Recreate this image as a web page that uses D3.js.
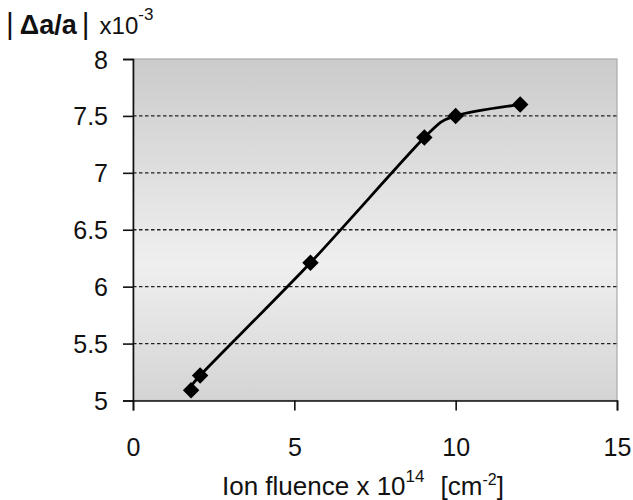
<!DOCTYPE html>
<html>
<head>
<meta charset="utf-8">
<script src="https://cdn.jsdelivr.net/npm/d3@7"></script>
<style>
  body { margin: 0; background: #fff; }
  text { font-family: "Liberation Sans", Arial, sans-serif; }
</style>
</head>
<body>
<svg id="svg" width="633" height="500"></svg>
<script>
let fluence = [1.8, 2.08, 5.5, 9.03, 10, 12];
let strain = [5.09, 5.22, 6.21, 7.31, 7.5, 7.6];
let xTicks = [0, 5, 10, 15];
let yTicks = [5, 5.5, 6, 6.5, 7, 7.5, 8];
let gridValues = [5.5, 6, 6.5, 7, 7.5];

let margin = {top: 59, bottom: 100, left: 133, right: 16};
let svgWidth = 633;
let svgHeight = 500;
let width = svgWidth - margin.left - margin.right;
let height = svgHeight - margin.top - margin.bottom + 0.5;

let svg = d3.select('#svg');

let grad = svg.append('defs').append('linearGradient')
  .attr('id', 'bg')
  .attr('x1', 0).attr('y1', 0).attr('x2', 0).attr('y2', 1);
grad.append('stop').attr('offset', '0%').attr('stop-color', '#cbcbcb');
grad.append('stop').attr('offset', '60%').attr('stop-color', '#efefef');
grad.append('stop').attr('offset', '100%').attr('stop-color', '#d4d4d4');

let gChart = svg.append('g')
  .attr('transform', `translate(${margin.left},${margin.top})`);

let xScale = d3.scaleLinear().domain([0, 15]).range([0, width]);
let yScale = d3.scaleLinear().domain([5, 8]).range([height, 0]);

gChart.append('rect')
  .attr('width', width)
  .attr('height', height)
  .attr('fill', 'url(#bg)')
  .attr('stroke', '#a8a8a8')
  .attr('stroke-width', 1.2);

gChart.append('g')
  .selectAll('line')
  .data(gridValues)
  .enter()
  .append('line')
  .attr('x1', 0)
  .attr('x2', width)
  .attr('y1', d => yScale(d))
  .attr('y2', d => yScale(d))
  .attr('stroke', '#222')
  .attr('stroke-width', 1.3)
  .attr('stroke-dasharray', '3.5,2.5');

let xAxis = d3.axisBottom(xScale).tickValues(xTicks).tickSize(10).tickPadding(28);
let yAxis = d3.axisLeft(yScale).tickValues(yTicks).tickSize(10).tickPadding(15)
  .tickFormat(d3.format('~g'));

let gXAxis = gChart.append('g')
  .attr('transform', `translate(0,${height})`)
  .call(xAxis);
let gYAxis = gChart.append('g').call(yAxis);

[gXAxis, gYAxis].forEach(g => {
  g.select('.domain').attr('stroke', '#111').attr('stroke-width', 1.6);
  g.selectAll('.tick line').attr('stroke', '#111').attr('stroke-width', 1.6);
  g.selectAll('.tick text')
    .attr('fill', '#111')
    .style('font-size', '25px')
    .style('font-family', '"Liberation Sans", Arial, sans-serif');
});
gYAxis.selectAll('.tick text').attr('dy', '0.36em');

let points = fluence.map((d, i) => ({x: d, y: strain[i]}));

// excel style smoothing
let lineGenerator = d3.line()
  .x(d => xScale(d.x))
  .y(d => yScale(d.y))
  .curve(d3.curveCardinal.tension(0.2));

gChart.append('path')
  .attr('d', lineGenerator(points))
  .attr('fill', 'none')
  .attr('stroke', '#000')
  .attr('stroke-width', 2.8);

let diamond = d3.symbol().type(d3.symbolSquare).size(135);
gChart.append('g')
  .selectAll('path')
  .data(points)
  .enter()
  .append('path')
  .attr('d', diamond)
  .attr('transform', d => `translate(${xScale(d.x)},${yScale(d.y)}) rotate(45)`)
  .attr('fill', '#000');

let title = svg.append('text')
  .attr('x', 6)
  .attr('y', 34)
  .attr('fill', '#111')
  .style('font-size', '27px');
title.append('tspan').style('font-size', '30px').text('|');
title.append('tspan').attr('dx', 6).style('font-weight', 'bold').text('\u0394a/a');
title.append('tspan').attr('dx', 5).style('font-size', '30px').text('|');
title.append('tspan').attr('dx', 10).style('font-size', '24px').text('x10');
title.append('tspan').attr('dy', -14).style('font-size', '17px').text('-3');

let xLabel = svg.append('text')
  .attr('x', 222)
  .attr('y', 495)
  .attr('fill', '#111')
  .style('font-size', '26px');
xLabel.append('tspan').text('Ion fluence x 10');
xLabel.append('tspan').attr('dy', -13).style('font-size', '17px').text('14');
xLabel.append('tspan').attr('dy', 13).attr('dx', 16).text('[cm');
xLabel.append('tspan').attr('dy', -10).style('font-size', '16px').text('-2');
xLabel.append('tspan').attr('dy', 10).text(']');
</script>
</body>
</html>
